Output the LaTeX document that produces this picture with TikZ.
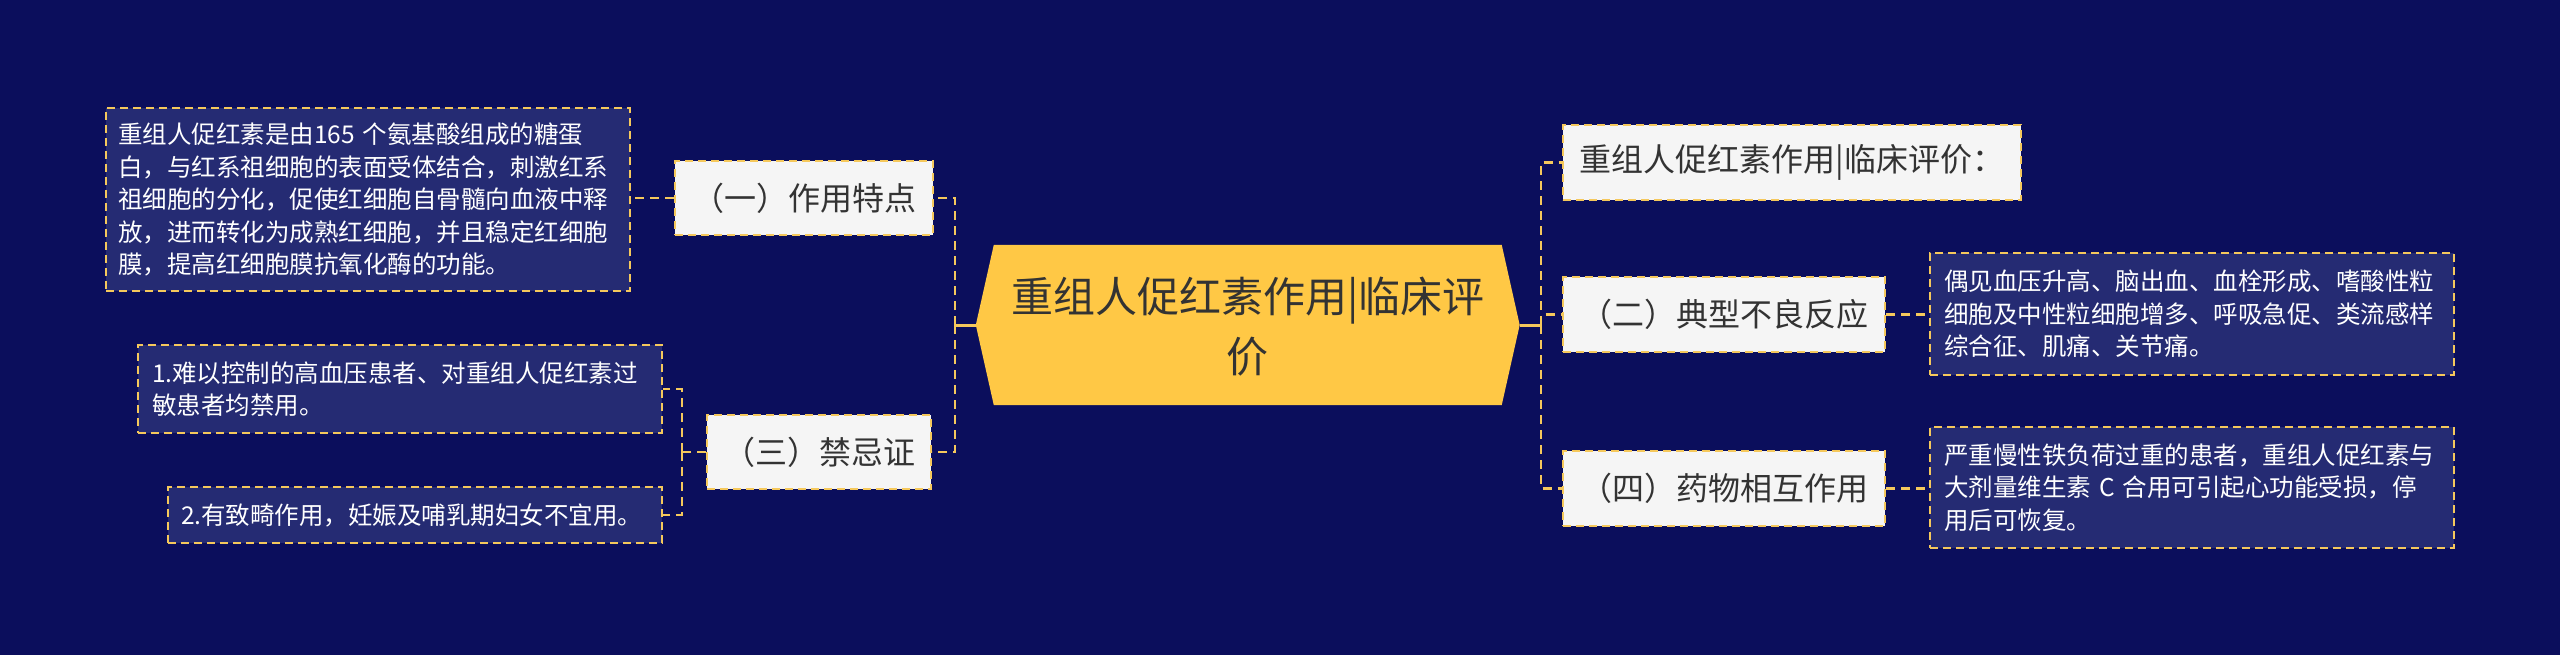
\documentclass[tikz,border=0pt]{standalone}
\usepackage{fontspec}
\newfontfamily\cjk{Noto Sans CJK SC}
\definecolor{bg}{HTML}{0B0E5C}
\definecolor{tbfill}{HTML}{252B73}
\definecolor{ylw}{HTML}{F5C85C}
\definecolor{hexfill}{HTML}{FFC845}
\definecolor{lbfill}{HTML}{F5F5F5}
\definecolor{dtext}{HTML}{333333}
\begin{document}
\begin{tikzpicture}[x=1pt,y=-1pt,
  border/.style={draw=ylw, line width=2pt, dash pattern=on 8pt off 5pt},
  lbox/.style={border, fill=lbfill, text=dtext, inner sep=0pt, font=\cjk\fontsize{32}{40}\selectfont, align=center},
  tbox/.style={border, fill=tbfill, text=white, inner ysep=0pt, align=left, font=\cjk\fontsize{24.5}{32.5}\selectfont},
  dconn/.style={draw=ylw, line width=2.5pt, dash pattern=on 9pt off 6pt},
  sconn/.style={draw=ylw, line width=3pt}
]
\fill[bg] (0,0) rectangle (2560,655);
\useasboundingbox (0,0) rectangle (2560,655);

% central hexagon
\node[minimum width=543.5pt, minimum height=160pt, inner sep=0pt] (c) at (1247.75,325) {};
\fill[hexfill] (c.west) -- ([xshift=18pt]c.north west) -- ([xshift=-18pt]c.north east) -- (c.east) -- ([xshift=-18pt]c.south east) -- ([xshift=18pt]c.south west) -- cycle;
\node[text=dtext, font=\cjk\fontsize{42}{60}\selectfont, align=center, inner sep=0pt] (ctext) at (1247.75,327) {重组人促红素作用|临床评\\价};

% left branch
\node[lbox, minimum width=258pt, minimum height=74pt] (b1) at (804,198) {（一）作用特点};
\node[lbox, minimum width=224pt, minimum height=74pt] (b3) at (819,452) {（三）禁忌证};

\node[tbox, text width=500pt, inner xsep=12pt, minimum height=183pt] (L1) at (368,199.5)
  {重组人促红素是由165 个氨基酸组成的糖蛋\\白，与红系祖细胞的表面受体结合，刺激红系\\祖细胞的分化，促使红细胞自骨髓向血液中释\\放，进而转化为成熟红细胞，并且稳定红细胞\\膜，提高红细胞膜抗氧化酶的功能。};
\node[tbox, text width=496pt, inner xsep=14pt, minimum height=88pt] (S1) at (400,389)
  {1.难以控制的高血压患者、对重组人促红素过\\敏患者均禁用。};
\node[tbox, text width=468pt, inner xsep=13pt, minimum height=56pt] (S2) at (415,515)
  {2.有致畸作用，妊娠及哺乳期妇女不宜用。};

% right branch
\node[lbox, minimum width=458pt, minimum height=75pt] (r0) at (1792,162.5) {重组人促红素作用|临床评价：};
\node[lbox, minimum width=322pt, minimum height=75pt] (r2) at (1724,314.5) {（二）典型不良反应};
\node[lbox, minimum width=322pt, minimum height=75pt] (r4) at (1724,488.5) {（四）药物相互作用};

\node[tbox, text width=496pt, inner xsep=14pt, minimum height=122pt] (R2) at (2192,314)
  {偶见血压升高、脑出血、血栓形成、嗜酸性粒\\细胞及中性粒细胞增多、呼吸急促、类流感样\\综合征、肌痛、关节痛。};
\node[tbox, text width=496pt, inner xsep=14pt, minimum height=121pt] (R4) at (2192,487.5)
  {严重慢性铁负荷过重的患者，重组人促红素与\\大剂量维生素 C 合用可引起心功能受损，停\\用后可恢复。};

% connectors
\coordinate (lj) at (955,325);
\coordinate (lj3) at (682,452);
\coordinate (rj) at (1541,325);

\draw[sconn] (c.west) -- (lj);
\draw[dconn] (lj) |- (b1.east);
\draw[dconn] (lj) |- (b3.east);
\draw[dconn] (b1.west) -- (b1.west -| L1.east);
\draw[dconn] (b3.west) -- (lj3);
\draw[dconn] (lj3) |- (S1.east);
\draw[dconn] (lj3) |- (S2.east);

\draw[sconn] (c.east) -- (rj);
\draw[dconn] (rj) |- (r0.west);
\draw[dconn] (rj) |- (r2.west);
\draw[dconn] (rj) |- (r4.west);
\draw[dconn] (r2.east) -- (R2.west |- r2.east);
\draw[dconn] (r4.east) -- (R4.west |- r4.east);
\end{tikzpicture}
\end{document}
